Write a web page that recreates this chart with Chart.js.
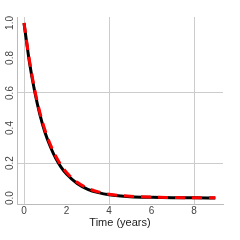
<!DOCTYPE html>
<html>
<head>
<meta charset="utf-8">
<script src="https://cdn.jsdelivr.net/npm/chart.js@4"></script>
<style>
  html, body { margin: 0; padding: 0; background: #fff; }
  canvas { display: block; }
</style>
</head>
<body>
<canvas id="chart" width="240" height="240"></canvas>
<script>
// values
const timeYears = [0, 0.25, 0.5, 0.75, 1, 1.25, 1.5, 1.75, 2, 2.5, 3, 3.5, 4, 5, 6, 7, 8, 9];
const fitted = [1.0, 0.78, 0.61, 0.475, 0.37, 0.29, 0.225, 0.175, 0.137, 0.083, 0.05, 0.031, 0.019, 0.008, 0.004, 0.002, 0.001, 0.0005];
const observed = [1.0, 0.79, 0.62, 0.487, 0.383, 0.302, 0.237, 0.186, 0.146, 0.09, 0.056, 0.035, 0.022, 0.01, 0.005, 0.003, 0.0015, 0.001];
const xTicks = [0, 2, 4, 6, 8];
const yTicks = [0, 0.2, 0.4, 0.6, 0.8, 1.0];
const xGrid = [0, 4, 8];
const yGrid = [0.2, 0.6];

const toPoints = (ys) => timeYears.map((t, i) => ({ x: t, y: ys[i] }));

const ctx = document.getElementById('chart');

new Chart(ctx, {
    type: 'line',
    data: {
        datasets: [
            {
                label: 'fitted',
                data: toPoints(fitted),
                borderColor: '#000000',
                borderWidth: 3,
                pointRadius: 0,
                cubicInterpolationMode: 'monotone',
                fill: false,
                order: 2
            },
            {
                // dashed red sits on top of the black curve
                label: 'observed',
                data: toPoints(observed),
                borderColor: '#ff0000',
                borderWidth: 3,
                borderDash: [10, 7],
                pointRadius: 0,
                cubicInterpolationMode: 'monotone',
                fill: false,
                order: 1
            }
        ]
    },
    options: {
        responsive: false,
        animation: false,
        layout: { padding: { top: 17, right: 17, left: 0, bottom: 0 } },
        plugins: {
            legend: { display: false },
            tooltip: { enabled: false }
        },
        scales: {
            x: {
                type: 'linear',
                min: -0.33,
                max: 9.36,
                afterBuildTicks: (scale) => { scale.ticks = xTicks.map(v => ({ value: v })); },
                afterFit: (scale) => { scale.height = 36; },
                grid: {
                    drawTicks: false,
                    color: (c) => xGrid.includes(c.tick && c.tick.value) ? '#cccccc' : 'rgba(0,0,0,0)'
                },
                border: { display: true, color: '#bbbbbb', width: 1 },
                ticks: {
                    padding: 1,
                    maxRotation: 0,
                    font: { family: 'Liberation Sans', size: 10 },
                    color: '#444444'
                },
                title: {
                    display: true,
                    text: 'Time (years)',
                    font: { family: 'Liberation Sans', size: 11 },
                    color: '#222222',
                    padding: { top: 0, bottom: 10 }
                }
            },
            y: {
                type: 'linear',
                min: -0.034,
                max: 1.034,
                afterBuildTicks: (scale) => { scale.ticks = yTicks.map(v => ({ value: v })); },
                afterFit: (scale) => { scale.width = 17; },
                grid: {
                    drawTicks: false,
                    color: (c) => yGrid.includes(c.tick && c.tick.value) ? '#cccccc' : 'rgba(0,0,0,0)'
                },
                border: { display: true, color: '#bbbbbb', width: 1 },
                ticks: {
                    padding: 0,
                    minRotation: 90,
                    maxRotation: 90,
                    crossAlign: 'center',
                    font: { family: 'Liberation Sans', size: 10 },
                    color: '#444444',
                    callback: (v) => v.toFixed(1)
                }
            }
        }
    }
});
</script>
</body>
</html>
